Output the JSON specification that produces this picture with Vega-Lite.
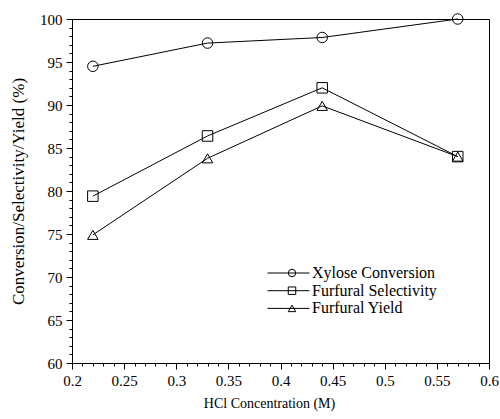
{
  "$schema": "https://vega.github.io/schema/vega-lite/v6.json",
  "autosize": "none",
  "width": 417,
  "height": 344,
  "padding": {"left": 72, "top": 19, "right": 11, "bottom": 56},
  "background": "white",
  "config": {
    "font": "Liberation Serif",
    "view": {"stroke": "black", "strokeWidth": 1},
    "axis": {
      "grid": false,
      "domainColor": "black",
      "tickColor": "black",
      "labelColor": "black",
      "titleColor": "black",
      "labelFont": "Liberation Serif",
      "titleFont": "Liberation Serif",
      "labelFontSize": 15,
      "titleFontSize": 15,
      "titleFontWeight": "normal",
      "labelOverlap": false,
      "labelFlush": false
    },
    "legend": {
      "labelFont": "Liberation Serif",
      "labelFontSize": 16,
      "labelColor": "black"
    }
  },
  "data": {
    "values": [
      {"hcl": 0.22, "series": "Xylose Conversion", "value": 94.5},
      {"hcl": 0.33, "series": "Xylose Conversion", "value": 97.2},
      {"hcl": 0.44, "series": "Xylose Conversion", "value": 97.85},
      {"hcl": 0.57, "series": "Xylose Conversion", "value": 100.0},
      {"hcl": 0.22, "series": "Furfural Selectivity", "value": 79.4},
      {"hcl": 0.33, "series": "Furfural Selectivity", "value": 86.4},
      {"hcl": 0.44, "series": "Furfural Selectivity", "value": 92.0},
      {"hcl": 0.57, "series": "Furfural Selectivity", "value": 84.0},
      {"hcl": 0.22, "series": "Furfural Yield", "value": 74.9},
      {"hcl": 0.33, "series": "Furfural Yield", "value": 83.8},
      {"hcl": 0.44, "series": "Furfural Yield", "value": 89.9},
      {"hcl": 0.57, "series": "Furfural Yield", "value": 84.0}
    ]
  },
  "resolve": {"axis": {"x": "independent", "y": "independent"}},
  "layer": [
    {
      "mark": {"type": "line", "strokeWidth": 1},
      "encoding": {
        "x": {
          "field": "hcl",
          "type": "quantitative",
          "scale": {"domain": [0.2, 0.6], "nice": false, "zero": false},
          "axis": {
            "orient": "bottom",
            "title": "HCl Concentration (M)",
            "labelFont": "Liberation Serif",
            "titleFont": "Liberation Serif",
            "labelFontSize": 15,
            "titleFontSize": 14,
            "titleX": 197,
            "titleY": 40,
            "titleBaseline": "middle",
            "values": [0.2,0.25,0.3,0.35,0.4,0.45,0.5,0.55,0.6],
            "format": "~g",
            "tickSize": 6,
            "labelPadding": 4
          }
        },
        "y": {
          "field": "value",
          "type": "quantitative",
          "scale": {"domain": [60, 100], "nice": false, "zero": false},
          "axis": {
            "orient": "left",
            "title": "Conversion/Selectivity/Yield (%)",
            "labelFont": "Liberation Serif",
            "titleFont": "Liberation Serif",
            "labelFontSize": 15,
            "titleFontSize": 17,
            "titleX": -54,
            "titleBaseline": "middle",
            "values": [60,65,70,75,80,85,90,95,100],
            "tickSize": 6,
            "labelPadding": 4
          }
        },
        "color": {
          "field": "series",
          "type": "nominal",
          "scale": {
            "domain": ["Xylose Conversion", "Furfural Selectivity", "Furfural Yield"],
            "range": ["black", "black", "black"]
          },
          "legend": {
            "title": null,
            "orient": "none",
            "legendX": 195,
            "legendY": 246,
            "padding": 0,
            "symbolType": "stroke",
            "symbolSize": 1764,
            "symbolStrokeWidth": 1,
            "clipHeight": 16,
            "labelOffset": 2,
            "rowPadding": 1.7
          }
        }
      }
    },
    {
      "mark": {"type": "point", "filled": false, "color": "black", "strokeWidth": 1, "size": 110, "opacity": 1},
      "encoding": {
        "x": {
          "field": "hcl",
          "type": "quantitative",
          "axis": {
            "orient": "bottom",
            "title": null,
            "labels": false,
            "domain": false,
            "values": [0.2,0.21,0.22,0.23,0.24,0.25,0.26,0.27,0.28,0.29,0.3,0.31,0.32,0.33,0.34,0.35,0.36,0.37,0.38,0.39,0.4,0.41,0.42,0.43,0.44,0.45,0.46,0.47,0.48,0.49,0.5,0.51,0.52,0.53,0.54,0.55,0.56,0.57,0.58,0.59,0.6],
            "tickSize": 3
          }
        },
        "y": {
          "field": "value",
          "type": "quantitative",
          "axis": {
            "orient": "left",
            "title": null,
            "labels": false,
            "domain": false,
            "values": [60,61,62,63,64,65,66,67,68,69,70,71,72,73,74,75,76,77,78,79,80,81,82,83,84,85,86,87,88,89,90,91,92,93,94,95,96,97,98,99,100],
            "tickSize": 3
          }
        },
        "shape": {
          "field": "series",
          "type": "nominal",
          "sort": ["Xylose Conversion", "Furfural Selectivity", "Furfural Yield"],
          "scale": {"range": ["circle", "square", "triangle-up"]},
          "legend": {
            "title": null,
            "orient": "none",
            "legendX": 212,
            "legendY": 246,
            "padding": 0,
            "symbolSize": 56,
            "symbolStrokeColor": "black",
            "symbolStrokeWidth": 1,
            "symbolFillColor": "transparent",
            "clipHeight": 16,
            "labelFontSize": 16,
            "labelExpr": "''",
            "rowPadding": 1.7
          }
        }
      }
    }
  ]
}
